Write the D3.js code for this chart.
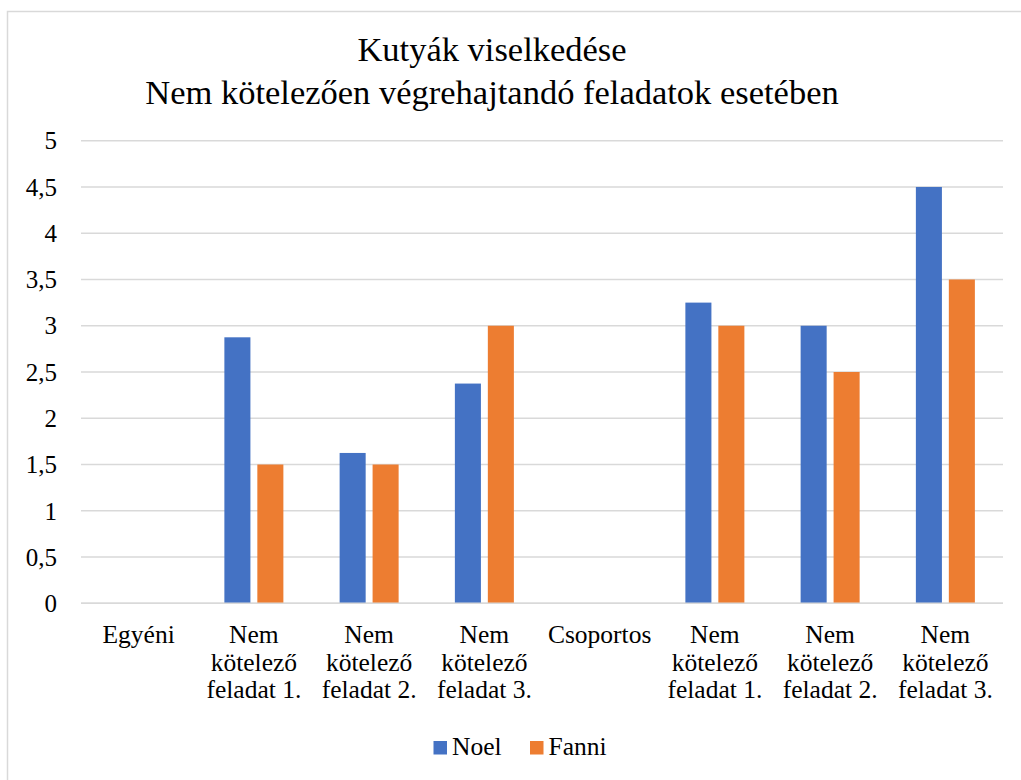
<!DOCTYPE html>
<html>
<head>
<meta charset="utf-8">
<script src="https://cdn.jsdelivr.net/npm/d3@7"></script>
<style>
  body { margin: 0; background: #fff; }
</style>
</head>
<body>
<div id="chart"></div>
<script>
// chart data
const categories = ["Egyéni", "Nem kötelező feladat 1.", "Nem kötelező feladat 2.", "Nem kötelező feladat 3.",
  "Csoportos", "Nem kötelező feladat 1.", "Nem kötelező feladat 2.", "Nem kötelező feladat 3."];
const seriesNames = ["Noel", "Fanni"];
const noel = [0, 2.875, 1.625, 2.375, 0, 3.25, 3, 4.5];
const fanni = [0, 1.5, 1.5, 3, 0, 3, 2.5, 3.5];
const yTicks = [0, 0.5, 1, 1.5, 2, 2.5, 3, 3.5, 4, 4.5, 5];
const titleLines = ["Kutyák viselkedése", "Nem kötelezően végrehajtandó feladatok esetében"];

const width = 1021, height = 780;
const colors = ["#4472C4", "#ED7D31"];
const plot = { left: 81, right: 1003, top: 140.7, bottom: 603.3 };
const serif = "'Liberation Serif', serif";

let svg = d3.select("#chart").append("svg")
    .attr("width", width)
    .attr("height", height);

// outer chart border (only top and left visible)
svg.append("rect")
    .attr("x", 7.5).attr("y", 11.5)
    .attr("width", 1040).attr("height", 800)
    .attr("fill", "none")
    .attr("stroke", "#d9d9d9")
    .attr("stroke-width", 1.5);

// title
svg.append("g").selectAll("text")
    .data(titleLines)
    .enter().append("text")
    .attr("x", 492)
    .attr("y", (d, i) => 61 + i * 43)
    .attr("text-anchor", "middle")
    .style("font-family", serif)
    .style("font-size", "34.5px")
    .text(d => d);

let x0 = d3.scaleBand()
    .domain(d3.range(categories.length))
    .range([plot.left, plot.right])
    .padding(0);

let groupW = 59;
let x1 = d3.scaleBand()
    .domain(seriesNames)
    .range([(x0.step() - groupW) / 2, (x0.step() + groupW) / 2])
    .paddingInner(0.21)
    .paddingOuter(0);

let y = d3.scaleLinear()
    .domain([0, 5])
    .range([plot.bottom, plot.top]);

// gridlines
svg.append("g").selectAll("line")
    .data(yTicks)
    .enter().append("line")
    .attr("x1", plot.left).attr("x2", plot.right)
    .attr("y1", d => y(d)).attr("y2", d => y(d))
    .attr("stroke", "#d9d9d9")
    .attr("stroke-width", 1.4);

// y tick labels
svg.append("g").selectAll("text")
    .data(yTicks)
    .enter().append("text")
    .attr("x", 57)
    .attr("y", d => y(d))
    .attr("dy", "0.35em")
    .attr("text-anchor", "end")
    .style("font-family", serif)
    .style("font-size", "25px")
    .text(d => String(d).replace(".", ","));

// bars
let rows = categories.map((c, i) => ({ i: i, values: [noel[i], fanni[i]] }));
let groups = svg.append("g").selectAll("g")
    .data(rows)
    .enter().append("g")
    .attr("transform", d => "translate(" + x0(d.i) + ",0)");

groups.selectAll("rect")
    .data(d => d.values.map((v, k) => ({ key: seriesNames[k], value: v, k: k })))
    .enter().append("rect")
    .filter(d => d.value > 0)
    .attr("x", d => x1(d.key))
    .attr("width", x1.bandwidth())
    .attr("y", d => y(d.value))
    .attr("height", d => y(0) - y(d.value))
    .attr("fill", d => colors[d.k]);

// re-draw the baseline over the bars
svg.append("line")
    .attr("x1", plot.left).attr("x2", plot.right)
    .attr("y1", y(0)).attr("y2", y(0))
    .attr("stroke", "#d9d9d9")
    .attr("stroke-width", 1.4);

// category labels, wrapped
let catLabels = svg.append("g").selectAll("text")
    .data(categories)
    .enter().append("text")
    .attr("x", (d, i) => x0(i) + x0.bandwidth() / 2)
    .attr("y", 643)
    .attr("text-anchor", "middle")
    .style("font-family", serif)
    .style("font-size", "25.5px");

catLabels.each(function(d) {
    let t = d3.select(this);
    let cx = t.attr("x");
    let words = d.split(" ");
    let lines = [];
    // keep "feladat 1." together
    for (let w = 0; w < words.length; w++) {
        if (/^\d+\.$/.test(words[w]) && lines.length) {
            lines[lines.length - 1] += " " + words[w];
        } else {
            lines.push(words[w]);
        }
    }
    lines.forEach((l, j) => {
        t.append("tspan").attr("x", cx).attr("dy", j === 0 ? 0 : 27.5).text(l);
    });
});

// legend
let legend = svg.append("g");
let legendX = [433.5, 530];
seriesNames.forEach((s, k) => {
    legend.append("rect")
        .attr("x", legendX[k]).attr("y", 741)
        .attr("width", 13.5).attr("height", 13.5)
        .attr("fill", colors[k]);
    legend.append("text")
        .attr("x", legendX[k] + 18.5).attr("y", 754.5)
        .style("font-family", serif)
        .style("font-size", "25.5px")
        .text(s);
});
</script>
</body>
</html>
